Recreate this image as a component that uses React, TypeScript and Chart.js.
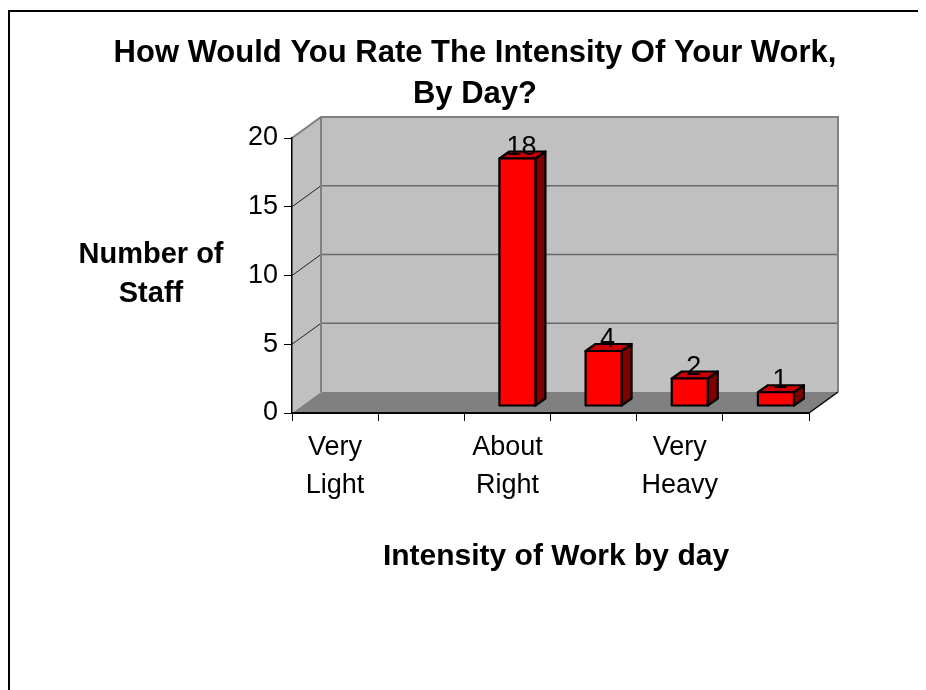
import React, { useEffect, useRef } from "react";
import { Chart, registerables } from "chart.js";

Chart.register(...registerables);

// ---- data ----
const categories = ["Very Light", "", "About Right", "", "Very Heavy", ""];
const staffCounts = [0, 0, 18, 4, 2, 1];
const yTickStep = 5;
const yMax = 20;
const titleLines = ["How Would You Rate The Intensity Of Your Work,", "By Day?"];
const yTitleLines = ["Number of", "Staff"];
const xTitle = "Intensity of Work by day";

const FONT = '"Liberation Sans", Arial, Helvetica, sans-serif';
const DEPTH_X = 29;
const DEPTH_Y = -21;
const BAR_DX = 10;
const BAR_DY = -7;

const CANVAS_W = 918;
const CANVAS_H = 682;

const threeDPlugin = {
  id: "threeD",
  beforeDraw(chart: any) {
    const ctx = chart.ctx as CanvasRenderingContext2D;
    const { left, right, top, bottom } = chart.chartArea;
    const yScale = chart.scales.y;
    ctx.save();
    ctx.fillStyle = "#ffffff";
    ctx.fillRect(0, 0, chart.width, chart.height);

    // outer frame (only left/top visible)
    ctx.strokeStyle = "#000";
    ctx.lineWidth = 2;
    ctx.beginPath();
    ctx.moveTo(1, chart.height + 10);
    ctx.lineTo(1, 3);
    ctx.lineTo(chart.width + 10, 3);
    ctx.stroke();

    // back wall
    ctx.fillStyle = "#C0C0C0";
    ctx.fillRect(left + DEPTH_X, top + DEPTH_Y, right - left, bottom - top);
    // left wall
    ctx.beginPath();
    ctx.moveTo(left, top);
    ctx.lineTo(left + DEPTH_X, top + DEPTH_Y);
    ctx.lineTo(left + DEPTH_X, bottom + DEPTH_Y);
    ctx.lineTo(left, bottom);
    ctx.closePath();
    ctx.fill();
    // floor
    ctx.fillStyle = "#808080";
    ctx.beginPath();
    ctx.moveTo(left, bottom);
    ctx.lineTo(right, bottom);
    ctx.lineTo(right + DEPTH_X, bottom + DEPTH_Y);
    ctx.lineTo(left + DEPTH_X, bottom + DEPTH_Y);
    ctx.closePath();
    ctx.fill();

    // gridlines
    for (let v = yTickStep; v < yMax; v += yTickStep) {
      const py = yScale.getPixelForValue(v);
      ctx.strokeStyle = "#6a6a6a";
      ctx.lineWidth = 1.5;
      ctx.beginPath();
      ctx.moveTo(left + DEPTH_X, py + DEPTH_Y);
      ctx.lineTo(right + DEPTH_X, py + DEPTH_Y);
      ctx.stroke();
      ctx.strokeStyle = "#222";
      ctx.lineWidth = 1;
      ctx.beginPath();
      ctx.moveTo(left, py);
      ctx.lineTo(left + DEPTH_X, py + DEPTH_Y);
      ctx.stroke();
    }

    // wall edges
    ctx.strokeStyle = "#808080";
    ctx.lineWidth = 2;
    ctx.beginPath();
    ctx.moveTo(left, top);
    ctx.lineTo(left + DEPTH_X, top + DEPTH_Y);
    ctx.lineTo(right + DEPTH_X, top + DEPTH_Y);
    ctx.lineTo(right + DEPTH_X, bottom + DEPTH_Y);
    ctx.moveTo(left + DEPTH_X, top + DEPTH_Y);
    ctx.lineTo(left + DEPTH_X, bottom + DEPTH_Y);
    ctx.stroke();

    // floor right edge
    ctx.strokeStyle = "#000";
    ctx.lineWidth = 1.5;
    ctx.beginPath();
    ctx.moveTo(right, bottom);
    ctx.lineTo(right + DEPTH_X, bottom + DEPTH_Y);
    ctx.stroke();

    // titles
    ctx.fillStyle = "#000";
    ctx.textAlign = "center";
    ctx.textBaseline = "alphabetic";
    ctx.font = `bold 31px ${FONT}`;
    ctx.fillText(titleLines[0], 467, 54);
    ctx.fillText(titleLines[1], 467, 95);

    ctx.font = `bold 29px ${FONT}`;
    ctx.fillText(yTitleLines[0], 143, 255);
    ctx.fillText(yTitleLines[1], 143, 294);

    ctx.font = `bold 30px ${FONT}`;
    ctx.fillText(xTitle, 548, 557);
    ctx.restore();
  },
  afterDatasetsDraw(chart: any) {
    const ctx = chart.ctx as CanvasRenderingContext2D;
    const meta = chart.getDatasetMeta(0);
    const data = chart.data.datasets[0].data as number[];
    ctx.save();
    ctx.lineJoin = "round";
    meta.data.forEach((el: any, i: number) => {
      const v = data[i];
      if (!v) return;
      const { x, y, base, width } = el.getProps(["x", "y", "base", "width"], true);
      const x0 = x - width / 2 + BAR_DX;
      const x1 = x + width / 2 + BAR_DX;
      const yt = y + BAR_DY;
      const yb = base + BAR_DY;
      ctx.lineWidth = 2.2;
      ctx.strokeStyle = "#000";
      // side
      ctx.fillStyle = "#800000";
      ctx.beginPath();
      ctx.moveTo(x1, yt);
      ctx.lineTo(x1 + BAR_DX, yt + BAR_DY);
      ctx.lineTo(x1 + BAR_DX, yb + BAR_DY);
      ctx.lineTo(x1, yb);
      ctx.closePath();
      ctx.fill();
      ctx.stroke();
      // top
      ctx.fillStyle = "#CC0000";
      ctx.beginPath();
      ctx.moveTo(x0, yt);
      ctx.lineTo(x1, yt);
      ctx.lineTo(x1 + BAR_DX, yt + BAR_DY);
      ctx.lineTo(x0 + BAR_DX, yt + BAR_DY);
      ctx.closePath();
      ctx.fill();
      ctx.stroke();
      // front
      ctx.fillStyle = "#FF0000";
      ctx.beginPath();
      ctx.rect(x0, yt, x1 - x0, yb - yt);
      ctx.fill();
      ctx.stroke();
      // label
      ctx.fillStyle = "#000";
      ctx.font = `27px ${FONT}`;
      ctx.textAlign = "center";
      ctx.textBaseline = "alphabetic";
      ctx.fillText(String(v), x + BAR_DX + 4, yt - 4);
    });
    ctx.restore();
  },
};

export default function App() {
  const ref = useRef<HTMLCanvasElement | null>(null);
  useEffect(() => {
    if (!ref.current) return;
    const chart = new Chart(ref.current, {
      type: "bar",
      data: {
        labels: categories,
        datasets: [
          {
            data: staffCounts,
            backgroundColor: "rgba(0,0,0,0)",
            borderWidth: 0,
            barPercentage: 0.418,
            categoryPercentage: 1,
          },
        ],
      },
      options: {
        responsive: false,
        animation: false,
        devicePixelRatio: 1,
        layout: { padding: { top: 130, right: 117, left: 0, bottom: 157 } },
        plugins: {
          legend: { display: false },
          tooltip: { enabled: false },
          title: { display: false },
        },
        scales: {
          x: {
            type: "category",
            grid: {
              offset: true,
              drawOnChartArea: false,
              drawTicks: true,
              tickLength: 8,
              color: "#000",
              lineWidth: 1,
            },
            border: { color: "#000", width: 2 },
            ticks: {
              autoSkip: false,
              maxRotation: 0,
              minRotation: 0,
              padding: 8,
              color: "#000",
              font: { family: FONT, size: 27, lineHeight: 1.4 },
              callback: (_v: any, i: number) => {
                const s = categories[i];
                return s ? s.split(" ") : "";
              },
            },
            afterFit: (s: any) => {
              s.height = 120;
              s.paddingLeft = 0;
              s.paddingRight = 0;
            },
          },
          y: {
            min: 0,
            max: yMax,
            grid: {
              drawOnChartArea: false,
              drawTicks: true,
              tickLength: 8,
              color: "#000",
              lineWidth: 1,
            },
            border: { color: "#000", width: 1.5 },
            ticks: {
              stepSize: yTickStep,
              padding: 6,
              color: "#000",
              font: { family: FONT, size: 27 },
            },
            afterFit: (s: any) => {
              s.width = 284;
              s.paddingTop = 0;
              s.paddingBottom = 0;
            },
          },
        },
      },
      plugins: [threeDPlugin],
    });
    return () => chart.destroy();
  }, []);
  return (
    <div style={{ width: CANVAS_W, height: CANVAS_H }}>
      <canvas ref={ref} width={CANVAS_W} height={CANVAS_H} style={{ display: "block" }} />
    </div>
  );
}
